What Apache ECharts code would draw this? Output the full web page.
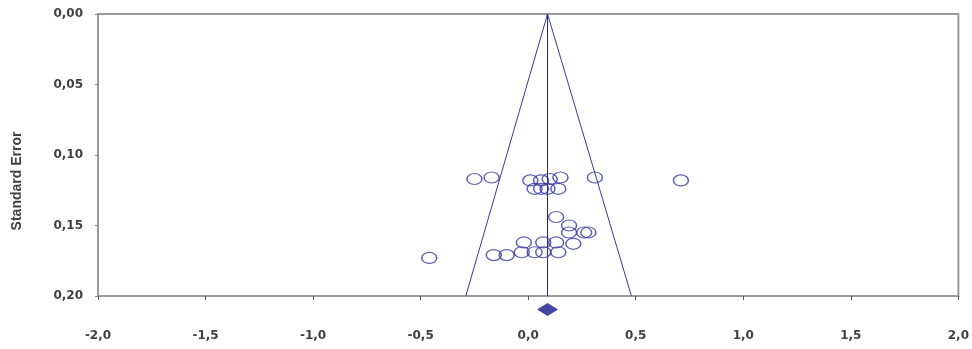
<!DOCTYPE html>
<html>
<head>
<meta charset="utf-8">
<script src="https://cdn.jsdelivr.net/npm/echarts@6/dist/echarts.min.js"></script>
<style>
html,body{margin:0;padding:0;background:#fff;}
#c{width:972px;height:349px;}
</style>
</head>
<body>
<div id="c"></div>
<script>
// Study effect sizes (x) and standard errors (y)
var studyX = [-0.25, -0.17, 0.01, 0.06, 0.10, 0.15, 0.31, 0.71,
              0.03, 0.06, 0.09, 0.14,
              0.13,
              0.19,
              0.19, 0.26, 0.28,
              0.21,
              -0.02, 0.07, 0.13,
              -0.46,
              -0.16, -0.10,
              -0.03, 0.03, 0.07, 0.14];
var studySE = [0.117, 0.116, 0.118, 0.118, 0.117, 0.116, 0.116, 0.118,
               0.124, 0.124, 0.124, 0.124,
               0.144,
               0.150,
               0.155, 0.155, 0.155,
               0.163,
               0.162, 0.162, 0.162,
               0.173,
               0.171, 0.171,
               0.169, 0.169, 0.169, 0.169];
// Funnel (pseudo 95% limits) and pooled estimate
var funnelX = [-0.29, 0.09, 0.48];
var funnelY = [0.20, 0.00, 0.20];
var meanLineX = [0.09, 0.09];
var meanLineY = [0.00, 0.20];
var pooledX = [0.09];
var pooledY = [0.2095];
var xTicks = [-2, -1.5, -1, -0.5, 0, 0.5, 1, 1.5, 2];
var yTicks = [0, 0.05, 0.10, 0.15, 0.20];
var yAxisTitle = 'Standard Error';

function zip(a, b){ return a.map(function(v,i){ return [v, b[i]]; }); }
function comma(v, d){ return v.toFixed(d).replace('.', ','); }

var chart = echarts.init(document.getElementById('c'));
var lbl = {fontFamily:'DejaVu Sans', fontWeight:'bold', fontSize:12, color:'#404040'};
chart.setOption({
  animation:false,
  backgroundColor:'#fff',
  grid:{left:98, right:11, top:14, bottom:53, show:true, borderColor:'#9a9a9a', borderWidth:2},
  graphic:[{type:'text', x:17, y:181, rotation:Math.PI/2,
    style:{text:yAxisTitle, align:'center', verticalAlign:'middle',
      font:'bold 14px "Liberation Sans"', fill:'#404040'}}],
  xAxis:{type:'value', min:xTicks[0], max:xTicks[xTicks.length-1], interval:0.5,
    axisLine:{show:true, onZero:false, lineStyle:{color:'#9a9a9a', width:2}},
    axisTick:{show:true, length:4, lineStyle:{color:'#555'}},
    splitLine:{show:false},
    axisLabel:Object.assign({margin:34, formatter:function(v){return comma(v,1);}}, lbl)},
  yAxis:{type:'value', inverse:true, min:yTicks[0], max:yTicks[yTicks.length-1], interval:0.05,
    axisLine:{show:true, onZero:false, lineStyle:{color:'#9a9a9a', width:2}},
    axisTick:{show:true, length:3, lineStyle:{color:'#888'}},
    splitLine:{show:false},
    axisLabel:Object.assign({margin:15, formatter:function(v){return comma(v,2);}}, lbl)},
  series:[
    {type:'line', data:zip(funnelX, funnelY), symbol:'none', lineStyle:{color:'#3a3a9a', width:1}, z:2},
    {type:'line', data:zip(meanLineX, meanLineY), symbol:'none', lineStyle:{color:'#22228e', width:1}, z:2},
    {type:'scatter', data:zip(studyX, studySE), symbol:'circle', symbolSize:[15,11],
      itemStyle:{color:'rgba(255,255,255,0)', borderColor:'#3434a0', borderWidth:1.3}, z:3},
    {type:'scatter', data:zip(pooledX, pooledY), symbol:'diamond', symbolSize:[21,13], clip:false,
      itemStyle:{color:'#15158a'}, z:4}
  ]
});
</script>
</body>
</html>
